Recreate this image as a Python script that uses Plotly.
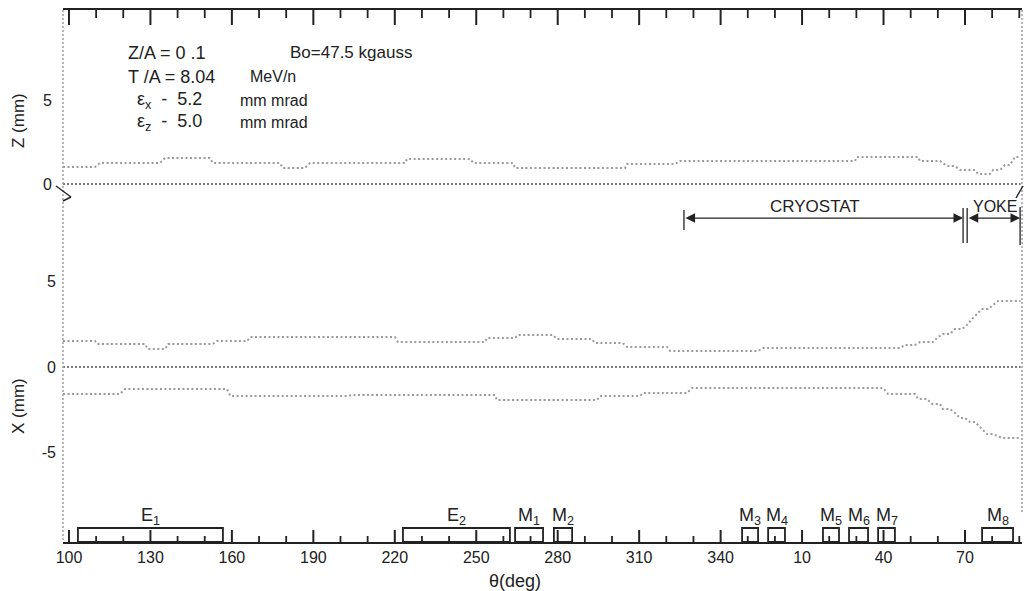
import plotly.graph_objects as go

W, H = 1029, 591
FONT = "Liberation Sans, Arial, sans-serif"
INK = "#222222"

# ---- beam envelope, vertical plane Z (mm) vs azimuth theta (deg) ----
z_theta = [97.8, 109.6, 111.4, 133.5, 135.4, 151.9, 153.0, 177.7, 178.8, 186.9,
           188.8, 223.8, 224.5, 247.7, 249.0, 263.5, 264.3, 304.8, 305.5, 323.2,
           325.0, 389.5, 390.2, 412.7, 413.4, 420.8, 423.4, 426.3, 428.2, 433.7,
           434.8, 439.2, 440.3, 442.9, 444.7, 446.6, 448.4, 450.5]
z_env = [1.01, 1.01, 1.25, 1.25, 1.55, 1.55, 1.25, 1.25, 0.95, 0.95,
         1.25, 1.25, 1.49, 1.49, 1.25, 1.25, 0.95, 0.95, 1.19, 1.19,
         1.37, 1.37, 1.61, 1.61, 1.37, 1.37, 1.07, 1.07, 0.83, 0.83,
         0.60, 0.60, 0.83, 0.83, 1.13, 1.13, 1.61, 1.61]

# ---- beam envelope, horizontal plane X (mm) ----
x_up_theta = [97.8, 109.6, 110.3, 128.0, 129.0, 135.4, 136.5, 153.0, 154.5, 165.6,
              166.7, 220.0, 221.2, 253.2, 254.0, 264.3, 265.4, 278.3, 279.7, 292.6,
              293.7, 304.0, 305.5, 320.3, 321.4, 353.8, 355.6, 406.1, 407.9, 411.6,
              413.4, 418.2, 420.1, 421.9, 424.5, 426.3, 428.9, 430.7, 432.6, 434.4,
              436.3, 438.5, 440.3, 442.2, 450.5]
x_up = [1.52, 1.52, 1.35, 1.35, 1.05, 1.05, 1.35, 1.35, 1.52, 1.52,
        1.75, 1.75, 1.46, 1.46, 1.70, 1.70, 1.87, 1.87, 1.64, 1.64,
        1.40, 1.40, 1.17, 1.17, 0.94, 0.94, 1.11, 1.11, 1.29, 1.29,
        1.46, 1.46, 1.75, 1.93, 1.93, 2.22, 2.22, 2.46, 2.81, 3.10,
        3.39, 3.39, 3.63, 3.86, 3.86]

x_lo_theta = [97.8, 118.8, 120.6, 158.2, 159.5, 202.8, 204.2, 256.9, 257.6, 294.5,
              295.6, 310.3, 311.4, 327.6, 329.5, 399.8, 401.7, 411.6, 412.7, 416.0,
              417.9, 420.8, 421.9, 424.5, 426.3, 428.2, 430.0, 431.9, 433.7, 435.5,
              438.1, 440.3, 443.6, 450.5]
x_lo = [-1.58, -1.58, -1.29, -1.29, -1.70, -1.70, -1.64, -1.64, -1.93, -1.93,
        -1.70, -1.70, -1.52, -1.52, -1.23, -1.23, -1.58, -1.58, -1.87, -1.87,
        -2.16, -2.16, -2.46, -2.46, -2.69, -2.98, -2.98, -3.22, -3.22, -3.51,
        -3.92, -3.92, -4.15, -4.15]

# reference orbit (centre lines)
centre_theta = [97.8, 450.5]
centre_val = [0.0, 0.0]

# ---- ring elements along the orbit (start / end azimuth, deg) ----
elem_names = ["E<sub>1</sub>", "E<sub>2</sub>", "M<sub>1</sub>", "M<sub>2</sub>",
              "M<sub>3</sub>", "M<sub>4</sub>", "M<sub>5</sub>", "M<sub>6</sub>",
              "M<sub>7</sub>", "M<sub>8</sub>"]
elem_start = [103.3, 223.0, 264.3, 278.6, 347.9, 357.5, 377.7, 387.3, 398.0, 436.3]
elem_end = [156.7, 262.4, 274.6, 285.3, 353.8, 363.7, 383.6, 394.3, 404.2, 447.7]

# cryostat / yoke extents (deg)
cryo_start, cryo_end = 326.5, 429.3
yoke_start, yoke_end = 430.8, 450.3

# azimuth ticks (theta runs past 360 and wraps)
major_vals = [100, 130, 160, 190, 220, 250, 280, 310, 340, 370, 400, 430]
major_text = ["100", "130", "160", "190", "220", "250", "280", "310", "340",
              "10", "40", "70"]
minor_vals = [v for v in range(100, 451, 10) if v not in major_vals]

# ---- layout geometry (pixels) ----
X_LEFT, X_RIGHT = 63, 1022
Y_TOP, Y_SPLIT, Y_BOTTOM = 10, 192, 542
THETA_RANGE = [97.8, 451.0]
X_RANGE = [-10.234, 10.234]
Z_RANGE = [-0.476, 10.357]
X_PER_PX = (X_RANGE[1] - X_RANGE[0]) / (Y_BOTTOM - Y_SPLIT)
Z_PER_PX = (Z_RANGE[1] - Z_RANGE[0]) / (Y_SPLIT - Y_TOP)


def pxx(x):
    return x / W


def pxy(y):
    return 1 - y / H


def tick_segments(vals, base, length):
    xs, ys = [], []
    for v in vals:
        xs += [v, v, None]
        ys += [base, base + length, None]
    return xs, ys


dot_env = dict(color="#9a9a9a", width=2, dash="2px,2.5px")
dot_ctr = dict(color="#7a7a7a", width=2, dash="2px,2px")

fig = go.Figure()
fig.add_trace(go.Scatter(x=centre_theta, y=centre_val, mode="lines", line=dot_ctr,
                         xaxis="x2", yaxis="y2", hoverinfo="skip"))
fig.add_trace(go.Scatter(x=z_theta, y=z_env, mode="lines", line=dot_env,
                         xaxis="x2", yaxis="y2", name="Z"))
fig.add_trace(go.Scatter(x=centre_theta, y=centre_val, mode="lines", line=dot_ctr,
                         hoverinfo="skip"))
fig.add_trace(go.Scatter(x=x_up_theta, y=x_up, mode="lines", line=dot_env, name="X+"))
fig.add_trace(go.Scatter(x=x_lo_theta, y=x_lo, mode="lines", line=dot_env, name="X-"))

# azimuth tick marks: upward from the bottom axis, downward from the top frame
for vals, blen, tlen, w in [(major_vals, 12, 15, 2.0), (minor_vals, 6, 8, 1.8)]:
    bx, by = tick_segments(vals, X_RANGE[0], blen * X_PER_PX)
    fig.add_trace(go.Scatter(x=bx, y=by, mode="lines", line=dict(color=INK, width=w),
                             hoverinfo="skip", cliponaxis=False))
    tx, ty = tick_segments(vals, Z_RANGE[1], -tlen * Z_PER_PX)
    fig.add_trace(go.Scatter(x=tx, y=ty, mode="lines", line=dict(color=INK, width=w),
                             xaxis="x2", yaxis="y2", hoverinfo="skip",
                             cliponaxis=False))

tickfont = dict(family=FONT, size=16, color=INK)
xdom = [pxx(X_LEFT), pxx(X_RIGHT)]

fig.update_layout(
    template="none",
    width=W, height=H, margin=dict(l=0, r=0, t=0, b=0, pad=0),
    paper_bgcolor="white", plot_bgcolor="white", showlegend=False,
    # bottom azimuth axis line and labels
    xaxis=dict(domain=xdom, range=THETA_RANGE, anchor="y", showgrid=False,
               zeroline=False, showline=True, linecolor=INK, linewidth=2,
               ticks="", tickmode="array", tickvals=major_vals, ticktext=major_text,
               tickfont=tickfont, automargin=False),
    # top frame line
    xaxis2=dict(domain=xdom, matches="x", anchor="y2", side="top", showgrid=False,
                zeroline=False, showline=True, linecolor=INK, linewidth=2,
                ticks="", showticklabels=False, automargin=False),
    yaxis=dict(domain=[pxy(Y_BOTTOM), pxy(Y_SPLIT)], range=X_RANGE, anchor="x",
               showgrid=False, zeroline=False, showline=False, ticks="",
               tickvals=[-5, 0, 5], ticktext=["-5", "0", "5"], tickfont=tickfont,
               ticklabelstandoff=6, automargin=False),
    yaxis2=dict(domain=[pxy(Y_SPLIT), pxy(Y_TOP)], range=Z_RANGE, anchor="x2",
                showgrid=False, zeroline=False, showline=False, ticks="",
                tickvals=[0, 5], ticktext=["0", "5"], tickfont=tickfont,
                ticklabelstandoff=10, automargin=False),
)

shapes = []
# dotted frame sides
shapes.append(dict(type="line", xref="paper", yref="paper",
                   x0=pxx(X_LEFT), x1=pxx(X_LEFT), y0=pxy(Y_TOP), y1=pxy(540),
                   line=dict(color="#a0a0a0", width=1.5, dash="2px,2px")))
shapes.append(dict(type="line", xref="paper", yref="paper",
                   x0=pxx(X_RIGHT), x1=pxx(X_RIGHT), y0=pxy(Y_TOP), y1=pxy(514),
                   line=dict(color="#a0a0a0", width=1.5, dash="2px,2px")))
# axis break marks
for (a, b, c, d) in [(56, 186, 71, 197), (63, 201, 71, 197), (1016, 198, 1023, 186)]:
    shapes.append(dict(type="line", xref="paper", yref="paper",
                       x0=pxx(a), y0=pxy(b), x1=pxx(c), y1=pxy(d),
                       line=dict(color=INK, width=1.4)))

# element boxes
box_top = -9.415
for s, e in zip(elem_start, elem_end):
    shapes.append(dict(type="rect", xref="x", yref="y", x0=s, x1=e,
                       y0=X_RANGE[0], y1=box_top,
                       line=dict(color=INK, width=1.8), fillcolor="rgba(0,0,0,0)"))

# cryostat / yoke limit bars
bar_specs = [(cryo_start, 8.01, 9.18), (cryo_end, 7.25, 9.30),
             (yoke_start, 7.25, 9.30), (yoke_end, 7.13, 9.36)]
for t, lo, hi in bar_specs:
    shapes.append(dict(type="line", xref="x", yref="y", x0=t, x1=t, y0=lo, y1=hi,
                       line=dict(color=INK, width=1.3)))
fig.update_layout(shapes=shapes)

ann = []


def txt(x, y, s, size=16, anchor="left", angle=0):
    ann.append(dict(x=pxx(x), y=pxy(y), xref="paper", yref="paper", text=s,
                    showarrow=False, xanchor=anchor, yanchor="middle", textangle=angle,
                    font=dict(family=FONT, size=size, color=INK)))


txt(126, 53, "Z/A = 0 .1", 18)
txt(288, 53, "Bo=47.5 kgauss", 17)
txt(126, 77, "T /A = 8.04", 18)
txt(248, 77, "MeV/n", 16)
txt(135, 100, "ε<sub>x</sub>  -  5.2", 18)
txt(238, 100, "mm mrad", 16)
txt(135, 122, "ε<sub>z</sub>  -  5.0", 18)
txt(238, 122, "mm mrad", 16)

txt(18, 121, "Z (mm)", 17, anchor="center", angle=-90)
txt(18, 406, "X (mm)", 17, anchor="center", angle=-90)
txt(515, 581, "θ(deg)", 18, anchor="center")

txt(815, 206, "CRYOSTAT", 17, anchor="center")
txt(995, 206, "YOKE", 16, anchor="center")

arrow_y = 8.71
for a0, a1 in [(cryo_start, cryo_end), (yoke_start, yoke_end)]:
    ann.append(dict(x=a1, y=arrow_y, ax=a0, ay=arrow_y, xref="x", yref="y",
                    axref="x", ayref="y", text="", showarrow=True,
                    arrowhead=2, startarrowhead=2, arrowside="end+start",
                    arrowsize=1.6, startarrowsize=1.6, arrowwidth=1.2,
                    arrowcolor=INK, standoff=0, startstandoff=0))

for name, s, e in zip(elem_names, elem_start, elem_end):
    ann.append(dict(x=(s + e) / 2, y=box_top, xref="x", yref="y", text=name,
                    showarrow=False, xanchor="center", yanchor="bottom", yshift=-2,
                    font=dict(family=FONT, size=18, color=INK)))

fig.update_layout(annotations=ann)
fig.write_html("out.html")
